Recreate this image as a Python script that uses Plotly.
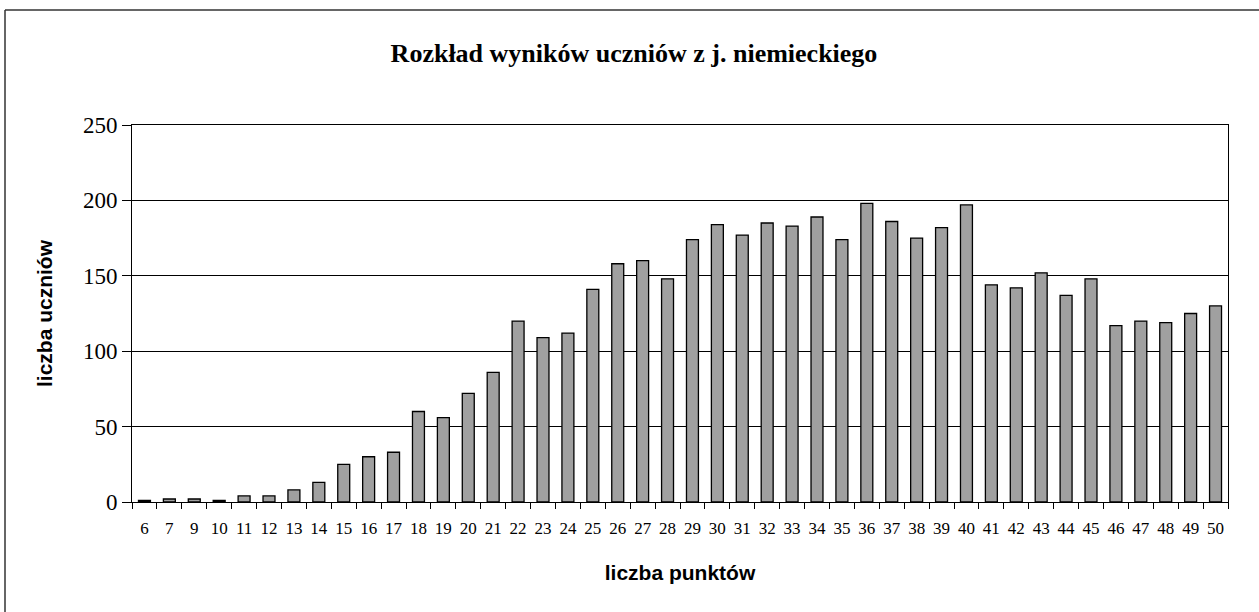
import plotly.graph_objects as go

categories = ["6", "7", "9"] + [str(v) for v in range(10, 51)]
students = [1, 2, 2, 1, 4, 4, 8, 13, 25, 30, 33, 60, 56, 72, 86, 120, 109, 112, 141, 158,
            160, 148, 174, 184, 177, 185, 183, 189, 174, 198, 186, 175, 182, 197, 144, 142,
            152, 137, 148, 117, 120, 119, 125, 130]
y_ticks = [0, 50, 100, 150, 200, 250]

title_text = "Rozkład wyników uczniów z j. niemieckiego"
x_title = "liczba punktów"
y_title = "liczba uczniów"

W, H = 1259, 612
L, R, T, B = 132, 1228, 125, 502

fig = go.Figure()
fig.add_trace(go.Bar(
    x=categories, y=students,
    marker=dict(color="#a0a0a0", line=dict(color="black", width=1.3)),
    showlegend=False,
))

def px_x(p):
    return (p - L) / (R - L)

def px_y(p):
    return (B - p) / (B - T)

border = dict(color="#333333", width=1.5)

fig.update_layout(
    width=W, height=H,
    margin=dict(l=L, r=W - R, t=T, b=H - B),
    paper_bgcolor="white", plot_bgcolor="white",
    bargap=0.52,
    title=dict(text="<b>" + title_text + "</b>", x=634 / W, xanchor="center",
               y=1 - 53 / H, yanchor="middle", yref="container",
               font=dict(family="Liberation Serif", size=26, color="black")),
    xaxis=dict(
        type="category", tickson="boundaries", ticks="outside", ticklen=6,
        tickcolor="black", tickwidth=1,
        showline=True, linecolor="black", linewidth=1, mirror=True,
        showgrid=False,
        tickfont=dict(family="Liberation Serif", size=17, color="black"),
        ticklabelstandoff=11,
        tickangle=0,
        title=dict(text="<b>" + x_title + "</b>", standoff=27,
                   font=dict(family="Liberation Sans", size=21, color="black")),
    ),
    yaxis=dict(
        range=[0, 250], tickvals=y_ticks, ticks="outside", ticklen=9,
        tickcolor="black", tickwidth=1,
        showline=True, linecolor="black", linewidth=1, mirror=True,
        showgrid=True, gridcolor="black", gridwidth=1,
        zeroline=False,
        tickfont=dict(family="Liberation Serif", size=23, color="black"),
        title=dict(text="<b>" + y_title + "</b>", standoff=24,
                   font=dict(family="Liberation Sans", size=21, color="black")),
    ),
    shapes=[
        dict(type="line", xref="paper", yref="paper",
             x0=px_x(5), x1=px_x(5), y0=px_y(620), y1=px_y(10), line=border, layer="below"),
        dict(type="line", xref="paper", yref="paper",
             x0=px_x(5), x1=px_x(1270), y0=px_y(10), y1=px_y(10), line=border, layer="below"),
    ],
)

fig.write_html("out.html", config={"displayModeBar": False},
               post_script="document.body.style.margin='0';"
                           "document.documentElement.style.overflow='hidden';")
